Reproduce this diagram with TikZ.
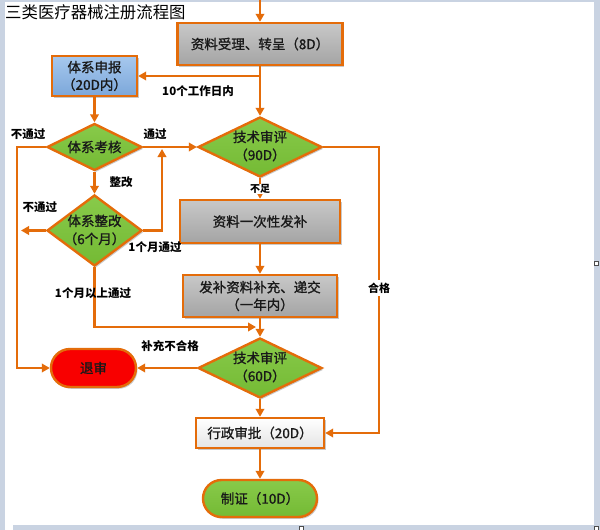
\documentclass[tikz,border=0pt]{standalone}
\usepackage{fontspec}
\newfontfamily\cjk{Noto Sans CJK SC}
\newfontfamily\cjkm[FakeBold=1.2]{Noto Sans CJK SC}
\usetikzlibrary{shapes.geometric,shapes.misc,arrows.meta,shadows}
\definecolor{org}{HTML}{E46C0A}
\definecolor{bgc}{HTML}{C9D3E2}
\definecolor{grn}{HTML}{88CA4A}
\definecolor{grnd}{HTML}{74BA34}
\definecolor{blt}{HTML}{A6C8EE}
\definecolor{blb}{HTML}{7CA7DA}
\definecolor{gyt}{HTML}{C8C8C8}
\definecolor{gyb}{HTML}{A4A4A4}
\definecolor{wbt}{HTML}{FFFFFF}
\definecolor{wbb}{HTML}{E4E4E4}
\definecolor{rd}{HTML}{F80000}
\begin{document}
\begin{tikzpicture}[x=1pt,y=-1pt,
  shd/.style={drop shadow={shadow xshift=1.5pt,shadow yshift=-1.8pt,opacity=0.35,fill=black!60}},
  conn/.style={draw=org,line width=2.6pt,-{Triangle[length=8pt,width=8.5pt]}},
  shapebase/.style={draw=org,line width=2.4pt,inner sep=0pt,align=center,text=black!90,
    font=\cjkm\fontsize{13.5}{17.5}\selectfont,shd},
  graybox/.style={shapebase,rectangle,top color=gyt,bottom color=gyb},
  bluebox/.style={shapebase,rectangle,top color=blt,bottom color=blb},
  whitebox/.style={shapebase,rectangle,top color=wbt,bottom color=wbb},
  dia/.style={shapebase,diamond,top color=grn,bottom color=grnd},
  dtext/.style={inner sep=0pt,align=center,text=black!90,font=\cjkm\fontsize{13.5}{18}\selectfont},
  redst/.style={shapebase,rounded rectangle,fill=rd},
  greenst/.style={shapebase,rounded rectangle,top color=grn,bottom color=grnd},
  lbl/.style={inner sep=0.5pt,text=black,font=\cjk\bfseries\fontsize{11.5}{13}\selectfont},
  wlbl/.style={lbl,fill=white},
  handle/.style={draw=black!70,fill=white,line width=0.6pt},
  ttl/.style={inner sep=0pt,text=black,font=\cjk\fontsize{16.4}{18}\selectfont}
]
\useasboundingbox (0,0) rectangle (600,530);
\fill[bgc] (0,0) rectangle (600,530);
\fill[white] (5,1.5) rectangle (594,525);
\fill[white] (5,525) rectangle (13,530);
\draw[handle] (594.5,261.5) rectangle (598.5,265.5);
\draw[handle] (299,526.5) rectangle (303,530);
\draw[handle] (594.5,526.5) rectangle (598.5,530);

\node[ttl,anchor=west] (title) at (5,12) {三类医疗器械注册流程图};

% nodes
\node[graybox,minimum width=165pt,minimum height=42pt] (zl) at (260,44) {资料受理、转呈（8D）};
\node[bluebox,minimum width=85pt,minimum height=40pt] (sb) at (94.5,76) {体系申报\\（20D内）};
\node[dia,minimum width=95pt,minimum height=47pt] (kh) at (94.5,147) {};
\node[dtext] (khT) at (94.5,147) {体系考核};
\node[dia,minimum width=124pt,minimum height=60pt] (js1) at (260,147) {};
\node[dtext] (js1T) at (260,146) {技术审评\\（90D）};
\node[dia,minimum width=95pt,minimum height=71pt] (zg) at (94.5,230.5) {};
\node[dtext] (zgT) at (94.5,230) {体系整改\\（6个月）};
\node[graybox,minimum width=160pt,minimum height=43pt] (fb) at (260,221.5) {资料一次性发补};
\node[graybox,minimum width=154pt,minimum height=42pt] (bc) at (260,296) {发补资料补充、递交\\（一年内）};
\node[dia,minimum width=124pt,minimum height=60pt] (js2) at (260,368) {};
\node[dtext] (js2T) at (260,367) {技术审评\\（60D）};
\node[redst,minimum width=85pt,minimum height=38pt] (ts) at (93.5,368) {退审};
\node[whitebox,minimum width=128pt,minimum height=30pt] (xz) at (260,433) {行政审批（20D）};
\node[greenst,minimum width=114pt,minimum height=37pt] (zz) at (260,498.5) {制证（10D）};

% connectors
\coordinate (top) at (260,0);
\coordinate (br) at (260,76);
\coordinate (lx) at (17,147);
\coordinate (zgl) at (21,230.5);
\coordinate (upend) at (162,149);
\coordinate (rt) at (256,327);
\coordinate (rx) at (379,147);
\draw[conn] (top) -- (zl.north);
\draw[conn] (zl.south) -- (js1.north);
\draw[conn] (br) -- (sb.east);
\draw[conn] (sb.south) -- (kh.north);
\draw[conn] (kh.east) -- (js1.west);
\draw[conn] (kh.west) -- (lx) |- (ts.west);
\draw[conn] (kh.south) -- (zg.north);
\draw[conn] (zg.west) -- (zgl);
\draw[conn] (zg.east) -| (upend);
\draw[conn] (zg.south) |- (rt);
\draw[conn] (js1.south) -- (fb.north);
\draw[conn] (fb.south) -- (bc.north);
\draw[conn] (bc.south) -- (js2.north);
\draw[conn] (js2.west) -- (ts.east);
\draw[conn] (js2.south) -- (xz.north);
\draw[conn] (js1.east) -- (rx) |- (xz.east);
\draw[conn] (xz.south) -- (zz.north);

% labels
\node[lbl] (l1) at (198,91) {10个工作日内};
\node[lbl] (l2) at (28,134) {不通过};
\node[lbl] (l3) at (155,134) {通过};
\node[lbl] (l4) at (121,182) {整改};
\node[lbl] (l5) at (40,207) {不通过};
\node[lbl] (l6) at (155,247) {1个月通过};
\node[lbl] (l7) at (93,293) {1个月以上通过};
\node[lbl] (l8) at (170,346) {补充不合格};
\node[wlbl,font=\cjk\bfseries\fontsize{10}{12}\selectfont] (l9) at (260,189) {不足};
\node[wlbl,font=\cjk\bfseries\fontsize{11}{12}\selectfont,inner ysep=3pt] (l10) at (379,288) {合格};
\end{tikzpicture}
\end{document}
